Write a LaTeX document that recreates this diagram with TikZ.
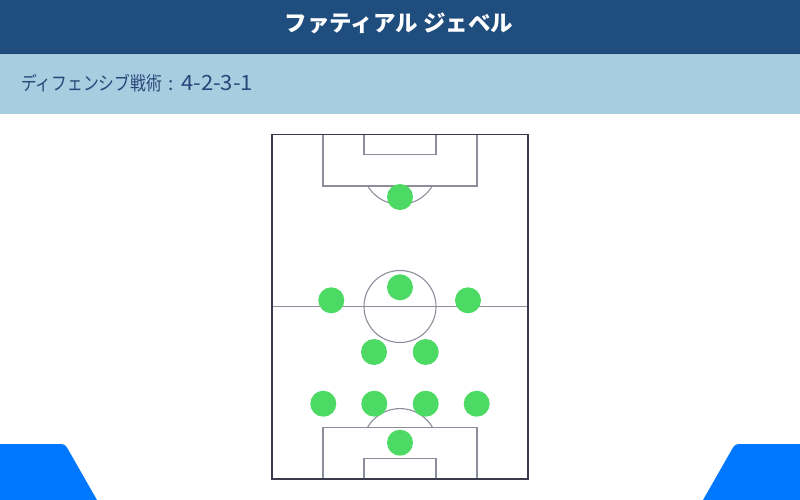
\documentclass[tikz,border=0pt]{standalone}
\usepackage{fontspec}
\newfontfamily\cjk{Noto Sans CJK JP}
\definecolor{hdrdark}{RGB}{31,78,126}
\definecolor{hdrline}{RGB}{27,68,110}
\definecolor{hdrlight}{RGB}{167,205,224}
\definecolor{subtxt}{RGB}{40,70,120}
\definecolor{pitchout}{RGB}{58,60,78}
\definecolor{pitchin}{RGB}{140,143,155}
\definecolor{player}{RGB}{76,217,100}
\definecolor{tabblue}{RGB}{0,119,255}
\tikzset{
  outerline/.style={draw=pitchout, line width=1.4pt},
  innerline/.style={draw=pitchin, line width=1.1pt},
  plr/.style={circle, fill=player, minimum size=26pt, inner sep=0pt},
  tab/.style={fill=tabblue},
  subtext/.style={text=subtxt, inner sep=0pt, anchor=base west},
}
\begin{document}
\begin{tikzpicture}[x=1pt,y=-1pt]
\useasboundingbox (0,0) rectangle (800,499);
% header bands
\fill[hdrdark] (0,0) rectangle (800,53);
\fill[hdrlight] (0,53) rectangle (800,114);
\draw[hdrline, line width=1pt] (0,53) -- (800,53);
\node[text=white, font=\cjk\bfseries\fontsize{22.5}{26}\selectfont] (title) at (399,23) {ファティアル ジェベル};
\node[subtext, font=\cjk\fontsize{19}{22}\selectfont, xscale=0.83] (sub) at (21,90) {ディフェンシブ戦術};
\node[subtext, font=\cjk\fontsize{19}{22}\selectfont] (colon) at (168,90) {:};
\node[subtext, font=\cjk\fontsize{21}{24}\selectfont, xscale=1.05] (form) at (181,90.5) {4-2-3-1};
% bottom tabs
\path[tab] (0,444) -- (57,444) .. controls (65,444) .. (69,451) -- (97,500) -- (0,500) -- cycle;
\path[tab] (800,444) -- (743,444) .. controls (735,444) .. (731,451) -- (703,500) -- (800,500) -- cycle;
% pitch
\coordinate (ctr) at (400,306.5);
\begin{scope}
\clip (272,186) rectangle (528,427.3);
\draw[innerline] (400,167) circle (37.4);
\draw[innerline] (400,446) circle (37.4);
\end{scope}
\draw[innerline] (272,306.5) -- (528,306.5);
\draw[innerline] (ctr) circle (36);
\draw[innerline] (323,134.3) rectangle (477,186);
\draw[innerline] (364,134.3) rectangle (436,154.7);
\draw[innerline] (323,479) rectangle (477,427.3);
\draw[innerline] (364,479) rectangle (436,458.3);
\draw[outerline] (272,134.3) rectangle (528,479);
% players
\node[plr] (gk1) at (400,197) {};
\node[plr] (am) at (400,287.3) {};
\node[plr] (lw) at (331.3,300.3) {};
\node[plr] (rw) at (468,300.3) {};
\node[plr] (dm1) at (374,352) {};
\node[plr] (dm2) at (425.7,352) {};
\node[plr] (lb) at (323.3,403.7) {};
\node[plr] (cb1) at (374.3,403.7) {};
\node[plr] (cb2) at (425.7,403.7) {};
\node[plr] (rb) at (476.7,403.7) {};
\node[plr] (gk2) at (400,442.7) {};
\end{tikzpicture}
\end{document}
